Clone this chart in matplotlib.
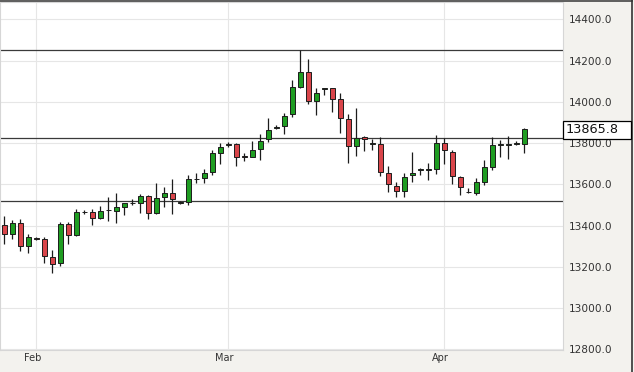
import numpy as np
import matplotlib
matplotlib.use("Agg")
import matplotlib.pyplot as plt
import matplotlib.transforms as mtransforms
from matplotlib.patches import Rectangle
from matplotlib.lines import Line2D

# ─── data ──────────────────────────────────────────────────────
opens = [13403, 13360, 13412, 13302, 13338, 13334, 13247, 13218, 13407, 13353,
         13465, 13465, 13436, 13474, 13473, 13492, 13508, 13511, 13544, 13460,
         13537, 13557, 13508, 13516, 13624, 13630, 13662, 13754, 13793, 13796,
         13736, 13734, 13770, 13818, 13872, 13883, 13941, 14073, 14146, 14005,
         14064, 14065, 14012, 13915, 13786, 13831, 13798, 13796, 13654, 13594,
         13568, 13646, 13672, 13672, 13673, 13799, 13758, 13637, 13563, 13560,
         13613, 13686, 13793, 13793, 13796, 13796]
highs = [13447, 13428, 13432, 13360, 13345, 13344, 13282, 13419, 13419, 13479,
         13475, 13479, 13495, 13540, 13560, 13511, 13530, 13553, 13549, 13605,
         13589, 13625, 13518, 13645, 13657, 13673, 13767, 13799, 13807, 13799,
         13751, 13812, 13844, 13920, 13888, 13944, 14106, 14251, 14207, 14068,
         14068, 14068, 14041, 13941, 13968, 13834, 13818, 13828, 13689, 13613,
         13657, 13755, 13681, 13705, 13839, 13823, 13767, 13641, 13581, 13630,
         13718, 13831, 13815, 13836, 13812, 13872]
lows = [13311, 13334, 13279, 13269, 13330, 13218, 13170, 13202, 13311, 13350,
        13458, 13403, 13431, 13424, 13412, 13450, 13500, 13460, 13431, 13457,
        13492, 13457, 13505, 13500, 13605, 13608, 13645, 13699, 13783, 13691,
        13715, 13731, 13718, 13807, 13867, 13844, 13928, 14065, 13989, 13936,
        14033, 13952, 13851, 13705, 13738, 13762, 13767, 13641, 13565, 13540,
        13537, 13613, 13646, 13621, 13650, 13699, 13600, 13549, 13557, 13549,
        13597, 13670, 13734, 13721, 13791, 13751]
closes = [13358, 13412, 13302, 13344, 13334, 13253, 13215, 13408, 13353, 13465,
          13466, 13436, 13473, 13477, 13489, 13508, 13509, 13544, 13460, 13533,
          13557, 13528, 13516, 13625, 13626, 13654, 13751, 13780, 13795, 13734,
          13733, 13767, 13812, 13863, 13877, 13933, 14070, 14146, 14005, 14041,
          14066, 14014, 13920, 13787, 13823, 13820, 13800, 13660, 13600, 13568,
          13637, 13657, 13674, 13674, 13799, 13767, 13641, 13589, 13561, 13610,
          13683, 13791, 13795, 13795, 13802, 13866]

levels = [14250, 13823, 13520]          # horizontal support / resistance
last_price = 13865.8

month_pos = [4, 28, 55]
month_labels = ["Feb", "Mar", "Apr"]
y_ticks = [12800, 13000, 13200, 13400, 13600, 13800, 14000, 14200, 14400]

# ─── styling ───────────────────────────────────────────────────
W, H = 634, 372
AX_BOT, AX_H = 22, 348        # pixels
Y_LO, Y_HI = 12797, 14484
GREEN = "#1f9d22"
RED = "#d9454a"
EDGE = "#1c1c1c"
PANEL = "#f3f2ee"
GRID = "#e6e6e6"

plt.rcParams["font.family"] = ["DejaVu Sans"]

fig = plt.figure(figsize=(W / 100, H / 100), dpi=100, facecolor=PANEL)
ax = fig.add_axes([0, AX_BOT / H, 563 / W, AX_H / H], facecolor="white")

o = np.array(opens, dtype=float)
h = np.array(highs, dtype=float)
l = np.array(lows, dtype=float)
c = np.array(closes, dtype=float)
x = np.arange(len(o))

up = c >= o
cols = np.where(up, GREEN, RED)
body_lo = np.minimum(o, c)
body_h = np.maximum(np.abs(c - o), 1.0)

# wicks, then bodies
ax.vlines(x, l, h, color=EDGE, lw=0.9, zorder=3)
ax.bar(x, body_h, bottom=body_lo, width=0.6, color=cols,
       edgecolor=EDGE, linewidth=0.7, zorder=4)

for lv in levels:
    ax.axhline(lv, color="#3a3a3a", lw=0.9, zorder=2)

ax.set_xlim(-0.54, 69.84)
ax.set_ylim(Y_LO, Y_HI)

ax.set_xticks(month_pos)
ax.set_xticklabels(month_labels)
ax.set_yticks(y_ticks)
ax.set_yticklabels([f"{v:.1f}" for v in y_ticks])
ax.yaxis.tick_right()
ax.tick_params(axis="y", length=0, pad=4.3, labelsize=7.6, labelcolor="#333333")
ax.tick_params(axis="x", length=0, pad=2.5, labelsize=7, labelcolor="#333333")
ax.grid(True, color=GRID, lw=0.8, zorder=0)
ax.set_axisbelow(True)
for s in ax.spines.values():
    s.set_color("#d6d6d6")
    s.set_linewidth(0.8)

# month labels sit a little left of their grid line
shift = mtransforms.ScaledTranslation(-4 / 100, 0, fig.dpi_scale_trans)
for lab in ax.get_xticklabels():
    lab.set_transform(lab.get_transform() + shift)

# last price marker box on the axis
y_frac = lambda v: (AX_BOT + (v - Y_LO) / (Y_HI - Y_LO) * AX_H) / H
yc = y_frac(last_price)
fig.patches.append(Rectangle((563 / W, yc - 9 / H), 67.5 / W, 18 / H,
                             transform=fig.transFigure, facecolor="white",
                             edgecolor="black", lw=0.9, zorder=5))
fig.text(565.5 / W, yc, f"{last_price:.1f}", ha="left", va="center",
         fontsize=9.3, color="#111111", zorder=6)

# outer frame: dark line on top and on the right
fig.lines.append(Line2D([0, 631.5 / W], [1 - 1 / H, 1 - 1 / H], transform=fig.transFigure,
                        color="#444444", lw=1.2))
fig.lines.append(Line2D([631.5 / W, 631.5 / W], [0, 1], transform=fig.transFigure,
                        color="#333333", lw=1.2))

fig.savefig("out.png", dpi=100, facecolor=PANEL)
